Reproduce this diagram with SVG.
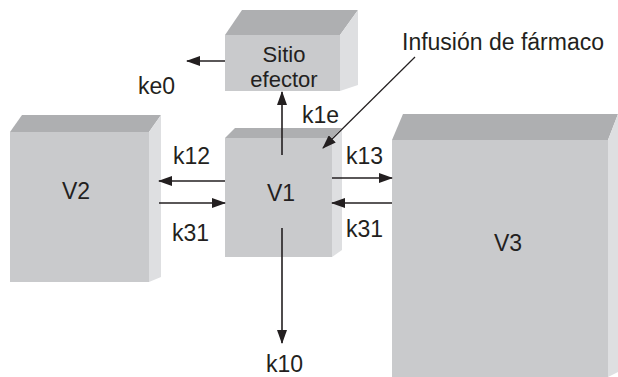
<svg xmlns="http://www.w3.org/2000/svg" width="618" height="377" viewBox="0 0 618 377">
<style>
.front{fill:#c9cacc}
.top{fill:#aeafb1}
.side{fill:#dedfe1}
.lbl{font-family:"Liberation Sans",Arial,sans-serif;font-size:23px;fill:#231f20}
.sm{font-size:22px}
.mid{text-anchor:middle}
.arr{stroke:#231f20;stroke-width:1.6;fill:none;marker-end:url(#ah)}
</style>
<defs>
<marker id="ah" markerUnits="userSpaceOnUse" markerWidth="14" markerHeight="10" refX="13" refY="5" orient="auto">
<path d="M0,0 L14,5 L0,10 Z" fill="#231f20"/>
</marker>
</defs>
<rect width="618" height="377" fill="#ffffff"/>
<g id="V2">
<polygon class="top" points="10,132 22,115 161,115 149,132"/>
<polygon class="side" points="149,132 161,115 161,277 149,282"/>
<rect class="front" x="10" y="132" width="139" height="150"/>
<text class="lbl mid" x="76" y="199">V2</text>
</g>
<g id="V3">
<polygon class="top" points="392,140 403,114 618,114 608,140"/>
<polygon class="side" points="608,140 618,114 618,372 608,377"/>
<rect class="front" x="392" y="140" width="216" height="237"/>
<text class="lbl mid" x="508" y="251">V3</text>
</g>
<g id="V1">
<polygon class="top" points="225,138 235,128 342,128 332,138"/>
<polygon class="side" points="332,138 342,128 342,250 332,257"/>
<rect class="front" x="225" y="138" width="107" height="119"/>
<text class="lbl mid" x="281" y="201">V1</text>
</g>
<g id="sitio">
<polygon class="top" points="225,35 242,10 358,10 340,35"/>
<polygon class="side" points="340,35 358,10 358,85 340,91"/>
<rect class="front" x="225" y="35" width="115" height="56"/>
<text class="lbl sm mid" x="284" y="62">Sitio</text>
<text class="lbl sm mid" x="284" y="87">efector</text>
</g>
<g id="connectors">
<line class="arr" x1="225" y1="61" x2="187" y2="61"/>
<line class="arr" x1="282" y1="155" x2="282" y2="92"/>
<line class="arr" x1="225" y1="181" x2="159" y2="181"/>
<line class="arr" x1="159" y1="203" x2="225" y2="203"/>
<line class="arr" x1="332" y1="178" x2="392" y2="178"/>
<line class="arr" x1="392" y1="203" x2="332" y2="203"/>
<line class="arr" x1="282" y1="228" x2="282" y2="343"/>
<line class="arr" style="stroke-width:1.2" x1="415" y1="57" x2="323" y2="148"/>
</g>
<g id="labels">
<text class="lbl" x="138" y="94">ke0</text>
<text class="lbl" x="302" y="123">k1e</text>
<text class="lbl" x="173" y="164">k12</text>
<text class="lbl" x="346" y="164">k13</text>
<text class="lbl" x="172" y="241">k31</text>
<text class="lbl" x="346" y="237">k31</text>
<text class="lbl" x="266" y="372">k10</text>
<text class="lbl" x="402" y="50">Infusión de fármaco</text>
</g>
</svg>
